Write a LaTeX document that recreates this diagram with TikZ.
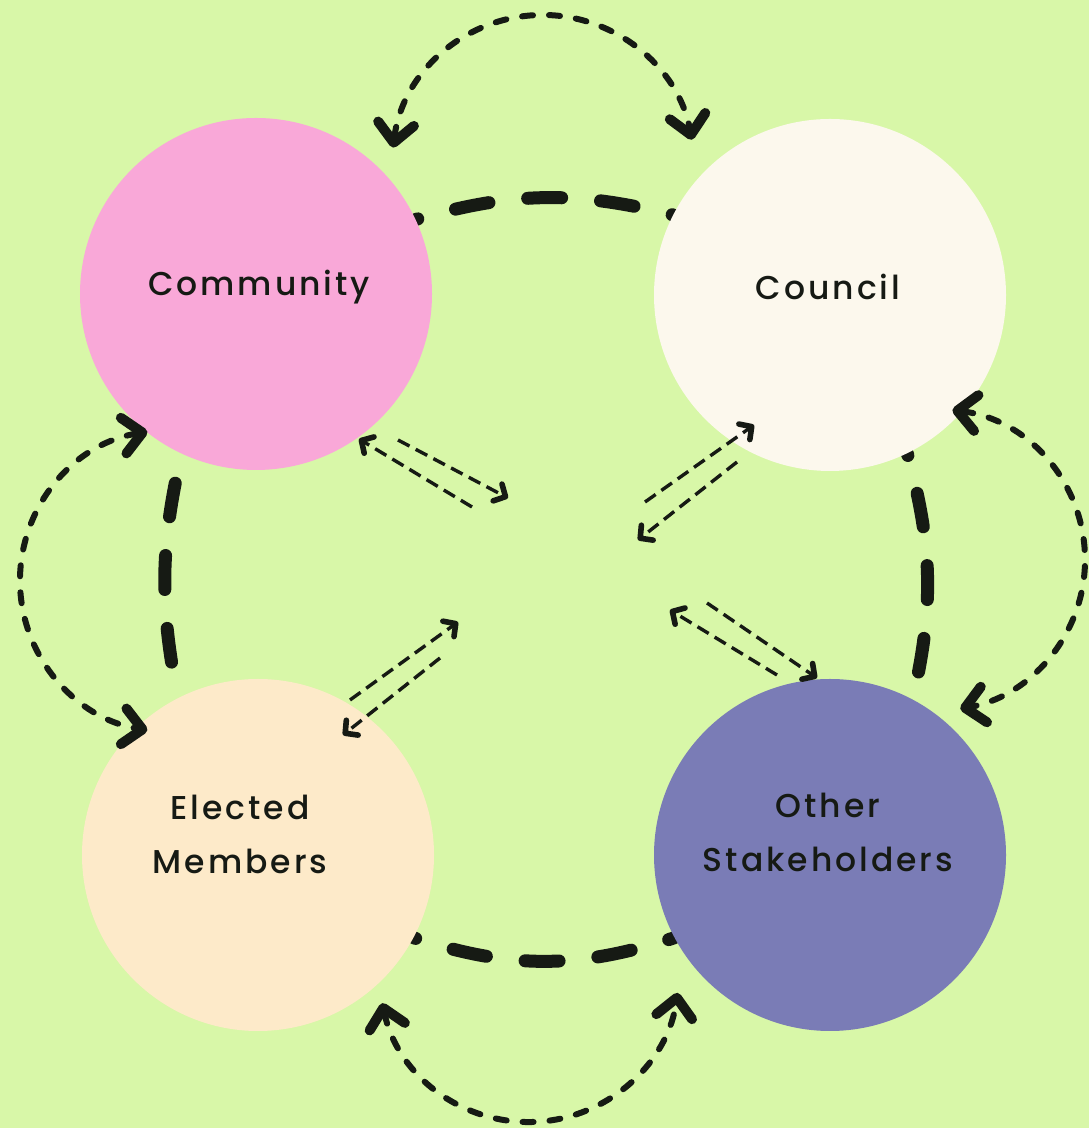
\documentclass[tikz,border=0pt]{standalone}
\usepackage{fontspec}
\setmainfont{Poppins}[LetterSpace=9,UprightFont={Poppins Medium}]
\usetikzlibrary{arrows.meta,calc}
\pgfdeclarelayer{paper}
\pgfdeclarelayer{links}
\pgfsetlayers{paper,links,main}
\definecolor{meadow}{RGB}{216,247,168}
\definecolor{rose}{RGB}{249,168,216}
\definecolor{shell}{RGB}{252,248,237}
\definecolor{peach}{RGB}{253,234,201}
\definecolor{iris}{RGB}{122,124,182}
\definecolor{ink}{RGB}{22,26,20}
\tikzset{
  loopbarb/.tip={Straight Barb[length=9.5pt,width=18pt,line width=5pt,round]},
  flowbarb/.tip={Straight Barb[length=4.5pt,width=9.5pt,line width=2.8pt,round]}
}
\begin{document}
\begin{tikzpicture}[x=0.5pt,y=0.5pt,
  disc/.style={circle,minimum size=176pt,inner sep=0pt},
  caption/.style={font=\fontsize{16.5}{27}\selectfont,text=ink,align=center},
  thicklink/.style={draw=ink,line width=6.5pt,line cap=round,
    dash pattern=on 17pt off 19.5pt},
  loop/.style={draw=ink,line width=3pt,line cap=round,
    dash pattern=on 5.5pt off 8pt,loopbarb-loopbarb},
  flow/.style={draw=ink,line width=1.7pt,dash pattern=on 6.5pt off 3.5pt,-flowbarb}
]
\useasboundingbox (0,0) rectangle (1089,1128);
\begin{pgfonlayer}{paper}
  \fill[meadow] (0,0) rectangle (1089,1128);
\end{pgfonlayer}

% the four discs
\node[disc,fill=rose]  (comm)  at (256,834) {};
\node[disc,fill=shell] (coun)  at (830,833) {};
\node[disc,fill=peach] (elec)  at (258,273) {};
\node[disc,fill=iris]  (other) at (830,273) {};

\node[caption] (commtxt)  at (259,841) {Community};
\node[caption] (countxt)  at (828,841) {Council};
\node[caption] (electxt)  at (240,294) {Elected\\Members};
\node[caption] (othertxt) at (828,296) {Other\\Stakeholders};

% heavy dashed links, tucked under the discs
\begin{pgfonlayer}{links}
  \draw[thicklink,dash phase=16pt]   (comm.25)   to[bend left=15]  (coun.153);
  \draw[thicklink,dash phase=16pt]   (elec.-28)  to[bend right=18] (other.208);
  \draw[thicklink,dash phase=21.5pt] (comm.-115) to[bend right=12] (elec.117);
  \draw[thicklink,dash phase=16pt]   (coun.-64)  to[bend left=14]  (other.62);
\end{pgfonlayer}

% outer two-way loops
\coordinate (arcT) at (543,962);
\coordinate (arcL) at (171,547);
\coordinate (arcR) at (934,568);
\coordinate (arcB) at (529,156);
\draw[loop] ($(arcT)+(173:151)$) arc[start angle=173,end angle=10,radius=151];
\draw[loop] ($(arcL)+(99:151)$)  arc[start angle=99,end angle=261,radius=151];
\draw[loop] ($(arcR)+(83:151)$)  arc[start angle=83,end angle=-80,radius=151];
\draw[loop] ($(arcB)+(192:150)$) arc[start angle=192,end angle=352,radius=150];

% paired arrows towards the middle
\coordinate (tlA0) at (472,621); \coordinate (tlA1) at (359,689);
\coordinate (tlB0) at (398,688); \coordinate (tlB1) at (508,630);
\coordinate (trC0) at (645,626); \coordinate (trC1) at (754,703);
\coordinate (trD0) at (737,666); \coordinate (trD1) at (638,588);
\coordinate (blE0) at (350,428); \coordinate (blE1) at (458,506);
\coordinate (blF0) at (440,470); \coordinate (blF1) at (343,393);
\coordinate (brG0) at (777,453); \coordinate (brG1) at (670,518);
\coordinate (brH0) at (707,525); \coordinate (brH1) at (817,450);
\draw[flow] (tlA0) -- (tlA1);
\draw[flow] (tlB0) -- (tlB1);
\draw[flow] (trC0) -- (trC1);
\draw[flow] (trD0) -- (trD1);
\draw[flow] (blE0) -- (blE1);
\draw[flow] (blF0) -- (blF1);
\draw[flow] (brG0) -- (brG1);
\draw[flow] (brH0) -- (brH1);
\end{tikzpicture}
\end{document}
